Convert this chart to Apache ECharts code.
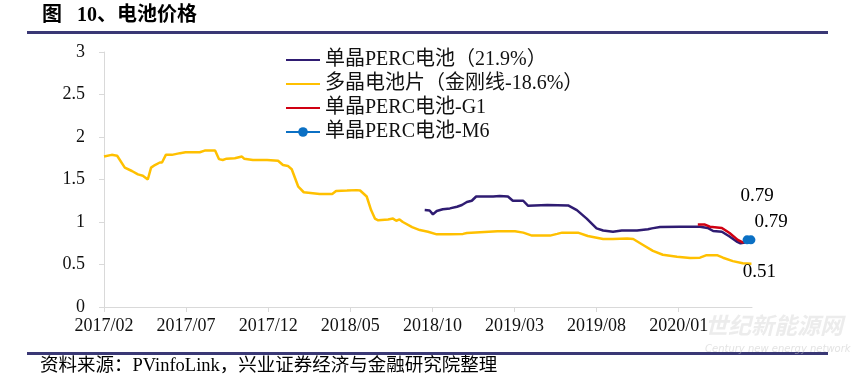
<!DOCTYPE html>
<html><head><meta charset="utf-8">
<script src="https://cdn.jsdelivr.net/npm/echarts@6/dist/echarts.min.js"></script>
<style>html,body{margin:0;padding:0;background:#fff}#c{width:856px;height:381px}</style>
</head><body><div id="c"></div>
<script>
// ---- data ----
const seriesNames = ['单晶PERC电池（21.9%）','多晶电池片（金刚线-18.6%）','单晶PERC电池-G1','单晶PERC电池-M6'];
const xAxisEnd = '2020-05-15';

const polyDates = ['2017-02-01','2017-02-15','2017-02-25','2017-03-09','2017-03-22','2017-04-03','2017-04-12','2017-04-21','2017-04-27','2017-05-04','2017-05-13','2017-05-17','2017-05-24','2017-06-05','2017-06-20','2017-06-30','2017-07-26','2017-08-05','2017-08-24','2017-09-01','2017-09-08','2017-09-15','2017-09-30','2017-10-13','2017-10-17','2017-11-03','2017-11-29','2017-12-19','2017-12-28','2018-01-07','2018-01-14','2018-01-26','2018-02-06','2018-03-05','2018-03-28','2018-04-05','2018-04-25','2018-05-13','2018-05-19','2018-06-01','2018-06-09','2018-06-16','2018-06-22','2018-07-10','2018-07-19','2018-07-25','2018-07-31','2018-08-07','2018-08-24','2018-09-08','2018-09-23','2018-10-09','2018-11-03','2018-11-27','2018-12-04','2018-12-28','2019-01-30','2019-03-02','2019-03-17','2019-04-03','2019-05-06','2019-05-19','2019-05-28','2019-06-27','2019-07-15','2019-08-13','2019-09-01','2019-09-27','2019-10-08','2019-10-26','2019-11-14','2019-12-02','2019-12-28','2020-01-22','2020-02-10','2020-02-22','2020-03-11','2020-03-22','2020-04-10','2020-04-28','2020-05-14'];
const polyValues = [1.77,1.79,1.78,1.64,1.60,1.56,1.545,1.50,1.64,1.67,1.70,1.70,1.79,1.79,1.81,1.82,1.82,1.84,1.84,1.74,1.73,1.745,1.75,1.77,1.745,1.73,1.73,1.72,1.67,1.66,1.62,1.415,1.35,1.33,1.33,1.365,1.37,1.375,1.37,1.30,1.14,1.04,1.02,1.03,1.04,1.015,1.03,1.00,0.94,0.905,0.886,0.855,0.855,0.86,0.87,0.88,0.89,0.89,0.875,0.84,0.84,0.86,0.875,0.875,0.835,0.80,0.80,0.805,0.80,0.73,0.66,0.615,0.59,0.576,0.58,0.61,0.61,0.58,0.54,0.515,0.51];

const monoDates = ['2018-09-17','2018-09-26','2018-10-02','2018-10-09','2018-10-20','2018-11-03','2018-11-16','2018-11-25','2018-12-04','2018-12-13','2018-12-21','2019-01-22','2019-02-04','2019-02-19','2019-02-28','2019-03-17','2019-03-26','2019-05-01','2019-06-09','2019-06-25','2019-07-13','2019-08-01','2019-08-13','2019-09-01','2019-09-17','2019-10-15','2019-11-05','2019-11-12','2019-11-27','2020-01-03','2020-02-10','2020-02-24','2020-03-04','2020-03-20','2020-04-04','2020-04-17','2020-04-24','2020-05-02'];
const monoValues = [1.14,1.135,1.09,1.13,1.15,1.16,1.18,1.20,1.235,1.25,1.30,1.30,1.305,1.30,1.25,1.25,1.19,1.20,1.195,1.14,1.04,0.925,0.90,0.886,0.90,0.90,0.914,0.925,0.94,0.945,0.945,0.93,0.894,0.886,0.83,0.77,0.75,0.76];

const g1Dates = ['2020-02-06','2020-02-19','2020-02-28','2020-03-20','2020-04-04','2020-04-19','2020-04-28','2020-05-06'];
const g1Values = [0.97,0.97,0.945,0.93,0.87,0.79,0.76,0.79];

const m6Dates = ['2020-05-06','2020-05-13'];
const m6Values = [0.79,0.79];

const yTicks = [0,0.5,1,1.5,2,2.5,3];

// ---- helpers ----
function mi(s){const p=s.split('-').map(Number);return (p[0]-2017)*12+(p[1]-2)+((p[2]||1)-1)/30;}
function label(i){const base=2017*12+1+Math.round(i);const y=Math.floor(base/12);const m=base%12+1;return y+'/'+String(m).padStart(2,'0');}
const serif = '"Liberation Serif","Noto Sans CJK SC",serif';
function build(dates, values, lastLabel){
  return dates.map((d,i)=>{
    const item={value:[mi(d),values[i]]};
    if(lastLabel && i===dates.length-1){item.label=Object.assign({show:true,formatter:values[i].toFixed(2),color:'#000',fontSize:19,fontFamily:serif},lastLabel);}
    return item;
  });
}
const lineIcon = 'path://M0,0 L0,0 M0,4.75 L40,4.75 L40,7.25 L0,7.25 Z M0,12 L0,12';

const chart = echarts.init(document.getElementById('c'));
chart.setOption({
  animation:false,
  backgroundColor:'#fff',
  textStyle:{fontFamily:serif},
  grid:{left:104,right:104,top:52,bottom:74,containLabel:false},
  legend:{
    orient:'vertical',left:280,top:45,itemWidth:34,itemHeight:12,itemGap:4,
    textStyle:{fontSize:20,color:'#111',fontFamily:serif},
    data:[
      {name:seriesNames[0],icon:lineIcon},
      {name:seriesNames[1],icon:lineIcon},
      {name:seriesNames[2],icon:lineIcon},
      {name:seriesNames[3]}
    ]
  },
  xAxis:{
    type:'value',min:0,max:mi(xAxisEnd),interval:5,
    axisLine:{lineStyle:{color:'#D9D9D9',width:1}},
    axisTick:{show:true,length:5,lineStyle:{color:'#D9D9D9'}},
    splitLine:{show:false},
    axisLabel:{formatter:v=>label(v),fontSize:18,color:'#111',fontFamily:serif,margin:10,showMaxLabel:false}
  },
  yAxis:{
    type:'value',min:yTicks[0],max:yTicks[yTicks.length-1],interval:0.5,
    axisLine:{show:true,lineStyle:{color:'#D9D9D9',width:1}},
    axisTick:{show:true,length:5,lineStyle:{color:'#D9D9D9'}},
    splitLine:{show:false},
    axisLabel:{fontSize:18,color:'#111',fontFamily:serif,margin:19}
  },
  graphic:[
    {type:'text',left:42,top:6,style:{text:'图   10、电池价格',font:'bold 20px '+serif,fill:'#000'}},
    {type:'rect',shape:{x:27,y:31,width:801,height:3},style:{fill:'#3A3875'}},
    {type:'rect',shape:{x:27,y:352,width:801,height:3},style:{fill:'#3A3875'}},
    {type:'text',left:40,top:357,style:{text:'资料来源：PVinfoLink，兴业证券经济与金融研究院整理',font:'18.5px '+serif,fill:'#000'}},
    {type:'text',left:705,top:314,style:{text:'世纪新能源网',font:'italic bold 23px "Noto Sans CJK SC"',fill:'rgba(200,200,200,0.35)'}},
    {type:'text',left:705,top:344,style:{text:'Century new energy network',font:'italic 10px "DejaVu Sans"',fill:'rgba(200,200,200,0.5)'}}
  ],
  series:[
    {name:seriesNames[1],type:'line',symbol:'circle',symbolSize:0,showSymbol:true,color:'#FFC000',lineStyle:{width:2.5,color:'#FFC000'},z:2,
     data:build(polyDates,polyValues,{position:'bottom',offset:[8,-6]})},
    {name:seriesNames[0],type:'line',symbol:'circle',symbolSize:0,showSymbol:true,color:'#2F1C72',lineStyle:{width:2.5,color:'#2F1C72'},z:3,
     data:build(monoDates,monoValues,null)},
    {name:seriesNames[2],type:'line',symbol:'circle',symbolSize:0,showSymbol:true,color:'#D00012',lineStyle:{width:2.5,color:'#D00012'},z:4,
     data:build(g1Dates,g1Values,{position:'top',offset:[10,-29]})},
    {name:seriesNames[3],type:'line',symbol:'circle',symbolSize:9,showSymbol:true,color:'#0B70C4',lineStyle:{width:2.5,color:'#0B70C4'},itemStyle:{color:'#0B70C4'},z:5,
     data:build(m6Dates,m6Values,{position:'right',offset:[-6,-18]})}
  ]
});
</script></body></html>
